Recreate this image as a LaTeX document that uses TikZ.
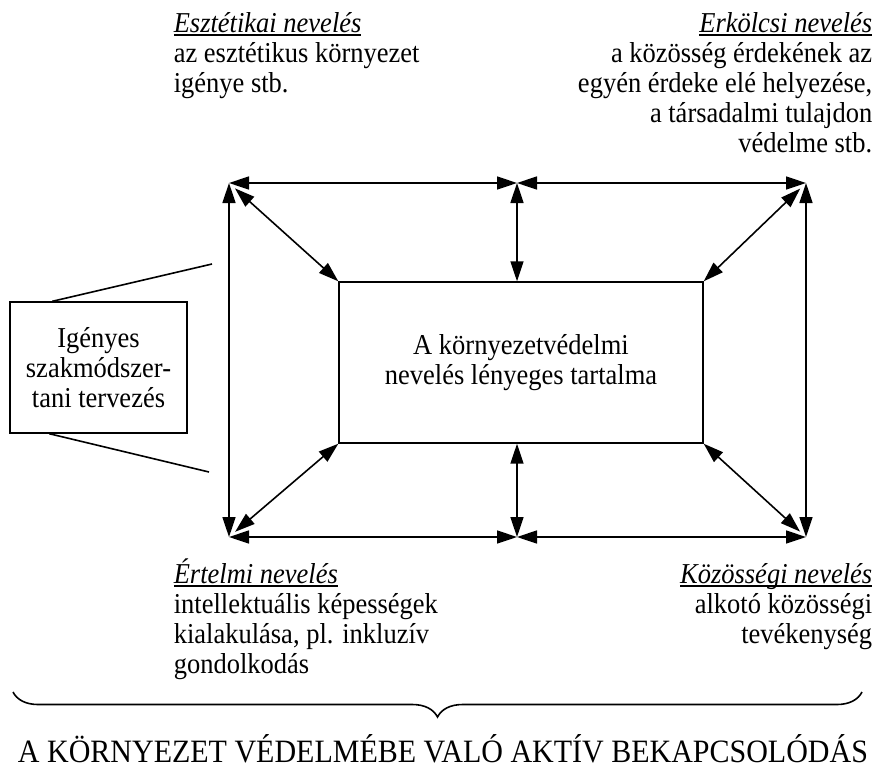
\documentclass[tikz,border=0pt]{standalone}
\usepackage{fontspec}
\setmainfont{Liberation Serif}[FakeStretch=0.92]
\usetikzlibrary{arrows.meta,positioning,decorations.pathreplacing}
\newcommand{\bodyfont}{\fontsize{28.8}{30}\selectfont}
\newcommand{\capfont}{\fontsize{32.6}{36}\selectfont}
\newsavebox{\hdbox}
\newcommand{\hd}[1]{\sbox{\hdbox}{\textit{#1}}\usebox{\hdbox}\llap{\rule[-3.5pt]{\wd\hdbox}{1.4pt}}}

\begin{document}
\begin{tikzpicture}[x=1pt,y=-1pt,line width=1.6pt,>={Triangle[length=20pt,width=13pt]}]
\tikzstyle{box}=[draw,line width=1.4pt,align=center,inner sep=0pt,font=\bodyfont]
\tikzstyle{txt}=[inner sep=0pt,font=\bodyfont]
\useasboundingbox (0,0) rectangle (877,764);
% frame corners
\coordinate (tl) at (229,183); \coordinate (tm) at (517,183); \coordinate (tr) at (806,183);
\coordinate (bl) at (229,537); \coordinate (bm) at (517,537); \coordinate (br) at (806,537);
\node[box,minimum width=364,minimum height=161] (core) at (521,362.5) {A környezetvédelmi\\nevelés lényeges tartalma};
\node[box,minimum width=177,minimum height=131] (plan) at (98.5,367.5) {Igényes\\szakmódszer-\\tani tervezés};
% outer frame
\draw[<->] (tl)--(tm); \draw[<->] (tm)--(tr);
\draw[<->] (bl)--(bm); \draw[<->] (bm)--(br);
\draw[<->] (tl)--(bl); \draw[<->] (tr)--(br);
% to the core box
\draw[<->,shorten <=8pt] (tl)--(core.north west);
\draw[<->,shorten <=8pt] (tr)--(core.north east);
\draw[<->,shorten <=8pt] (bl)--(core.south west);
\draw[<->,shorten <=8pt] (br)--(core.south east);
\draw[<->] (tm)--(tm |- core.north);
\draw[<->] (bm)--(bm |- core.south);
% side box
\coordinate (up) at (212,264); \coordinate (lo) at (209,472);
\draw ([xshift=43]plan.north west)--(up);
\draw ([xshift=40]plan.south west)--(lo);
% corner texts (base = last line)
\node[txt,align=left,anchor=base west] (aesth) at (173,92) {\hd{Esztétikai nevelés}\\az esztétikus környezet\\igénye stb.};
\node[txt,align=right,anchor=base east] (moral) at (873,152) {\hd{Erkölcsi nevelés}\\a közösség érdekének az\\egyén érdeke elé helyezése,\\a társadalmi tulajdon\\védelme stb.};
\node[txt,align=left,anchor=base west] (intel) at (173,673) {\hd{Értelmi nevelés}\\intellektuális képességek\\kialakulása, pl. inkluzív\\gondolkodás};
\node[txt,align=right,anchor=base east] (social) at (873,643) {\hd{Közösségi nevelés}\\alkotó közösségi\\tevékenység};
% brace and caption
\coordinate (brl) at (13,692); \coordinate (brr) at (862,692);
\draw[decorate,decoration={brace,mirror,amplitude=25pt}] (brl)--(brr);
\node[font=\capfont,inner sep=0pt,anchor=base] (aim) at (443,762) {A KÖRNYEZET VÉDELMÉBE VALÓ AKTÍV BEKAPCSOLÓDÁS};
\end{tikzpicture}
\end{document}
